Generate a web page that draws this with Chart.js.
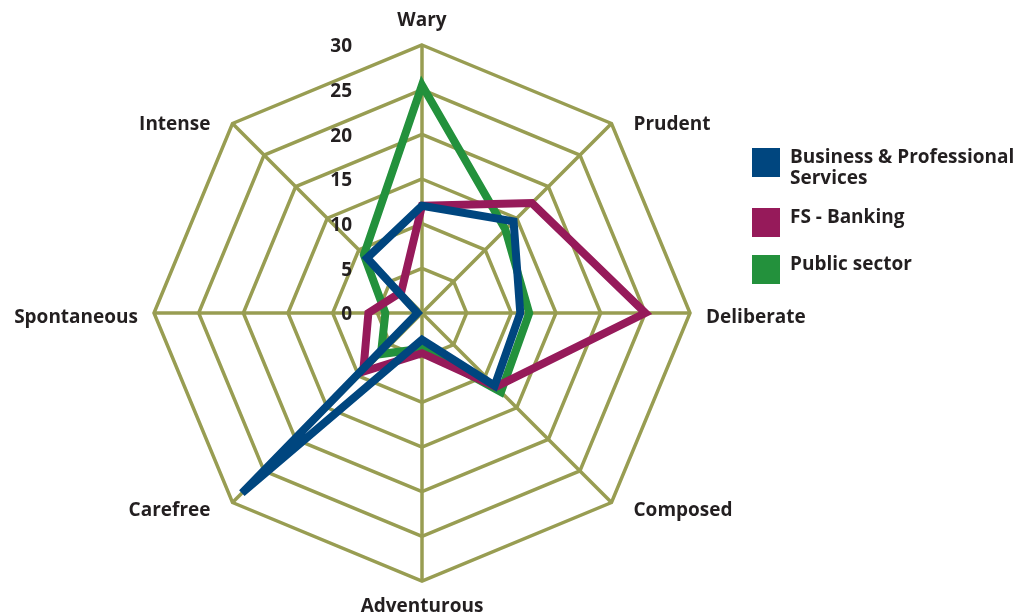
<!DOCTYPE html>
<html>
<head>
<meta charset="utf-8">
<script src="https://cdn.jsdelivr.net/npm/chart.js@4/dist/chart.umd.min.js"></script>
<style>
  body { margin: 0; background: #fff; }
  #wrap { position: relative; width: 1021px; height: 614px; }
  #legend { position: absolute; left: 752px; top: 146px; font: bold 19px 'Open Sans', sans-serif; color: #231f20; }
  .item { position: relative; padding-left: 38px; line-height: 21px; }
  .box { position: absolute; left: 0; top: 2px; width: 28px; height: 29px; }
</style>
</head>
<body>
<div id="wrap">
  <canvas id="chart" width="1021" height="614"></canvas>
  <div id="legend"></div>
</div>
<script>
const traits = ['Wary', 'Prudent', 'Deliberate', 'Composed', 'Adventurous', 'Carefree', 'Spontaneous', 'Intense'];
const businessServices = [12, 14.5, 11, 11.5, 3, 28.5, 0.5, 8.7];
const fsBanking = [12, 17.4, 25, 11.7, 4.5, 9.3, 6, 3.3];
const publicSector = [25.5, 13.2, 12, 12.5, 4, 6.5, 4.1, 9.2];
const tickValues = [0, 5, 10, 15, 20, 25, 30];

const seriesNames = ['Business & Professional Services', 'FS - Banking', 'Public sector'];
const seriesColors = ['#00467f', '#961a5a', '#23913c'];

const FONT = "'Open Sans', sans-serif";
const TEXT = '#231f20';
const GRID = '#989d52';

// tick numbers and trait names, drawn beside the web
const labelsPlugin = {
  id: 'webLabels',
  afterDraw(chart) {
    const s = chart.scales.r;
    const ctx = chart.ctx;
    ctx.save();
    ctx.fillStyle = TEXT;
    ctx.font = 'bold 19px ' + FONT;
    ctx.textBaseline = 'middle';

    ctx.textAlign = 'right';
    tickValues.forEach(v => {
      ctx.fillText(String(v), s.xCenter - 70, s.yCenter - s.getDistanceFromCenterForValue(v) + 2);
    });

    traits.forEach((name, i) => {
      const p = s.getPointPosition(i, s.drawingArea);
      const cos = Math.cos(p.angle), sin = Math.sin(p.angle);
      let x = p.x, y = p.y;
      if (Math.abs(cos) < 0.01) {
        ctx.textAlign = 'center';
        y += sin * 24 + (sin > 0 ? 2 : 0);
      } else {
        ctx.textAlign = cos > 0 ? 'left' : 'right';
        x += Math.sign(cos) * (Math.abs(sin) > 0.01 ? 22 : 16);
        y += sin * 5 + 5;
      }
      ctx.fillText(name, x, y);
    });
    ctx.restore();
  }
};

const datasets = [businessServices, fsBanking, publicSector].map((vals, i) => ({
  label: seriesNames[i],
  data: vals,
  borderColor: seriesColors[i],
  backgroundColor: 'transparent',
  borderWidth: 8,
  borderJoinStyle: 'miter',
  pointRadius: 0,
  fill: false
}));

new Chart(document.getElementById('chart'), {
  type: 'radar',
  data: { labels: traits, datasets },
  options: {
    responsive: false,
    animation: false,
    layout: { padding: { left: 154, top: 45, right: 331, bottom: 33 } },
    plugins: { legend: { display: false }, tooltip: { enabled: false } },
    scales: {
      r: {
        min: 0,
        max: 30,
        ticks: { stepSize: 5, display: false },
        grid: { color: GRID, lineWidth: 3.5, circular: false },
        angleLines: { color: GRID, lineWidth: 3.5 },
        pointLabels: { display: false }
      }
    }
  },
  plugins: [labelsPlugin]
});

// legend on the right
const legend = document.getElementById('legend');
const rows = [['Business & Professional', 'Services'], ['FS - Banking'], ['Public sector']];
const gaps = [0, 18, 18];
rows.forEach((lines, i) => {
  const item = document.createElement('div');
  item.className = 'item';
  item.style.marginTop = gaps[i] + 'px';
  item.style.minHeight = '29px';
  item.innerHTML = '<span class="box" style="background:' + seriesColors[i] + '"></span>' + lines.join('<br>');
  legend.appendChild(item);
});
</script>
</body>
</html>
